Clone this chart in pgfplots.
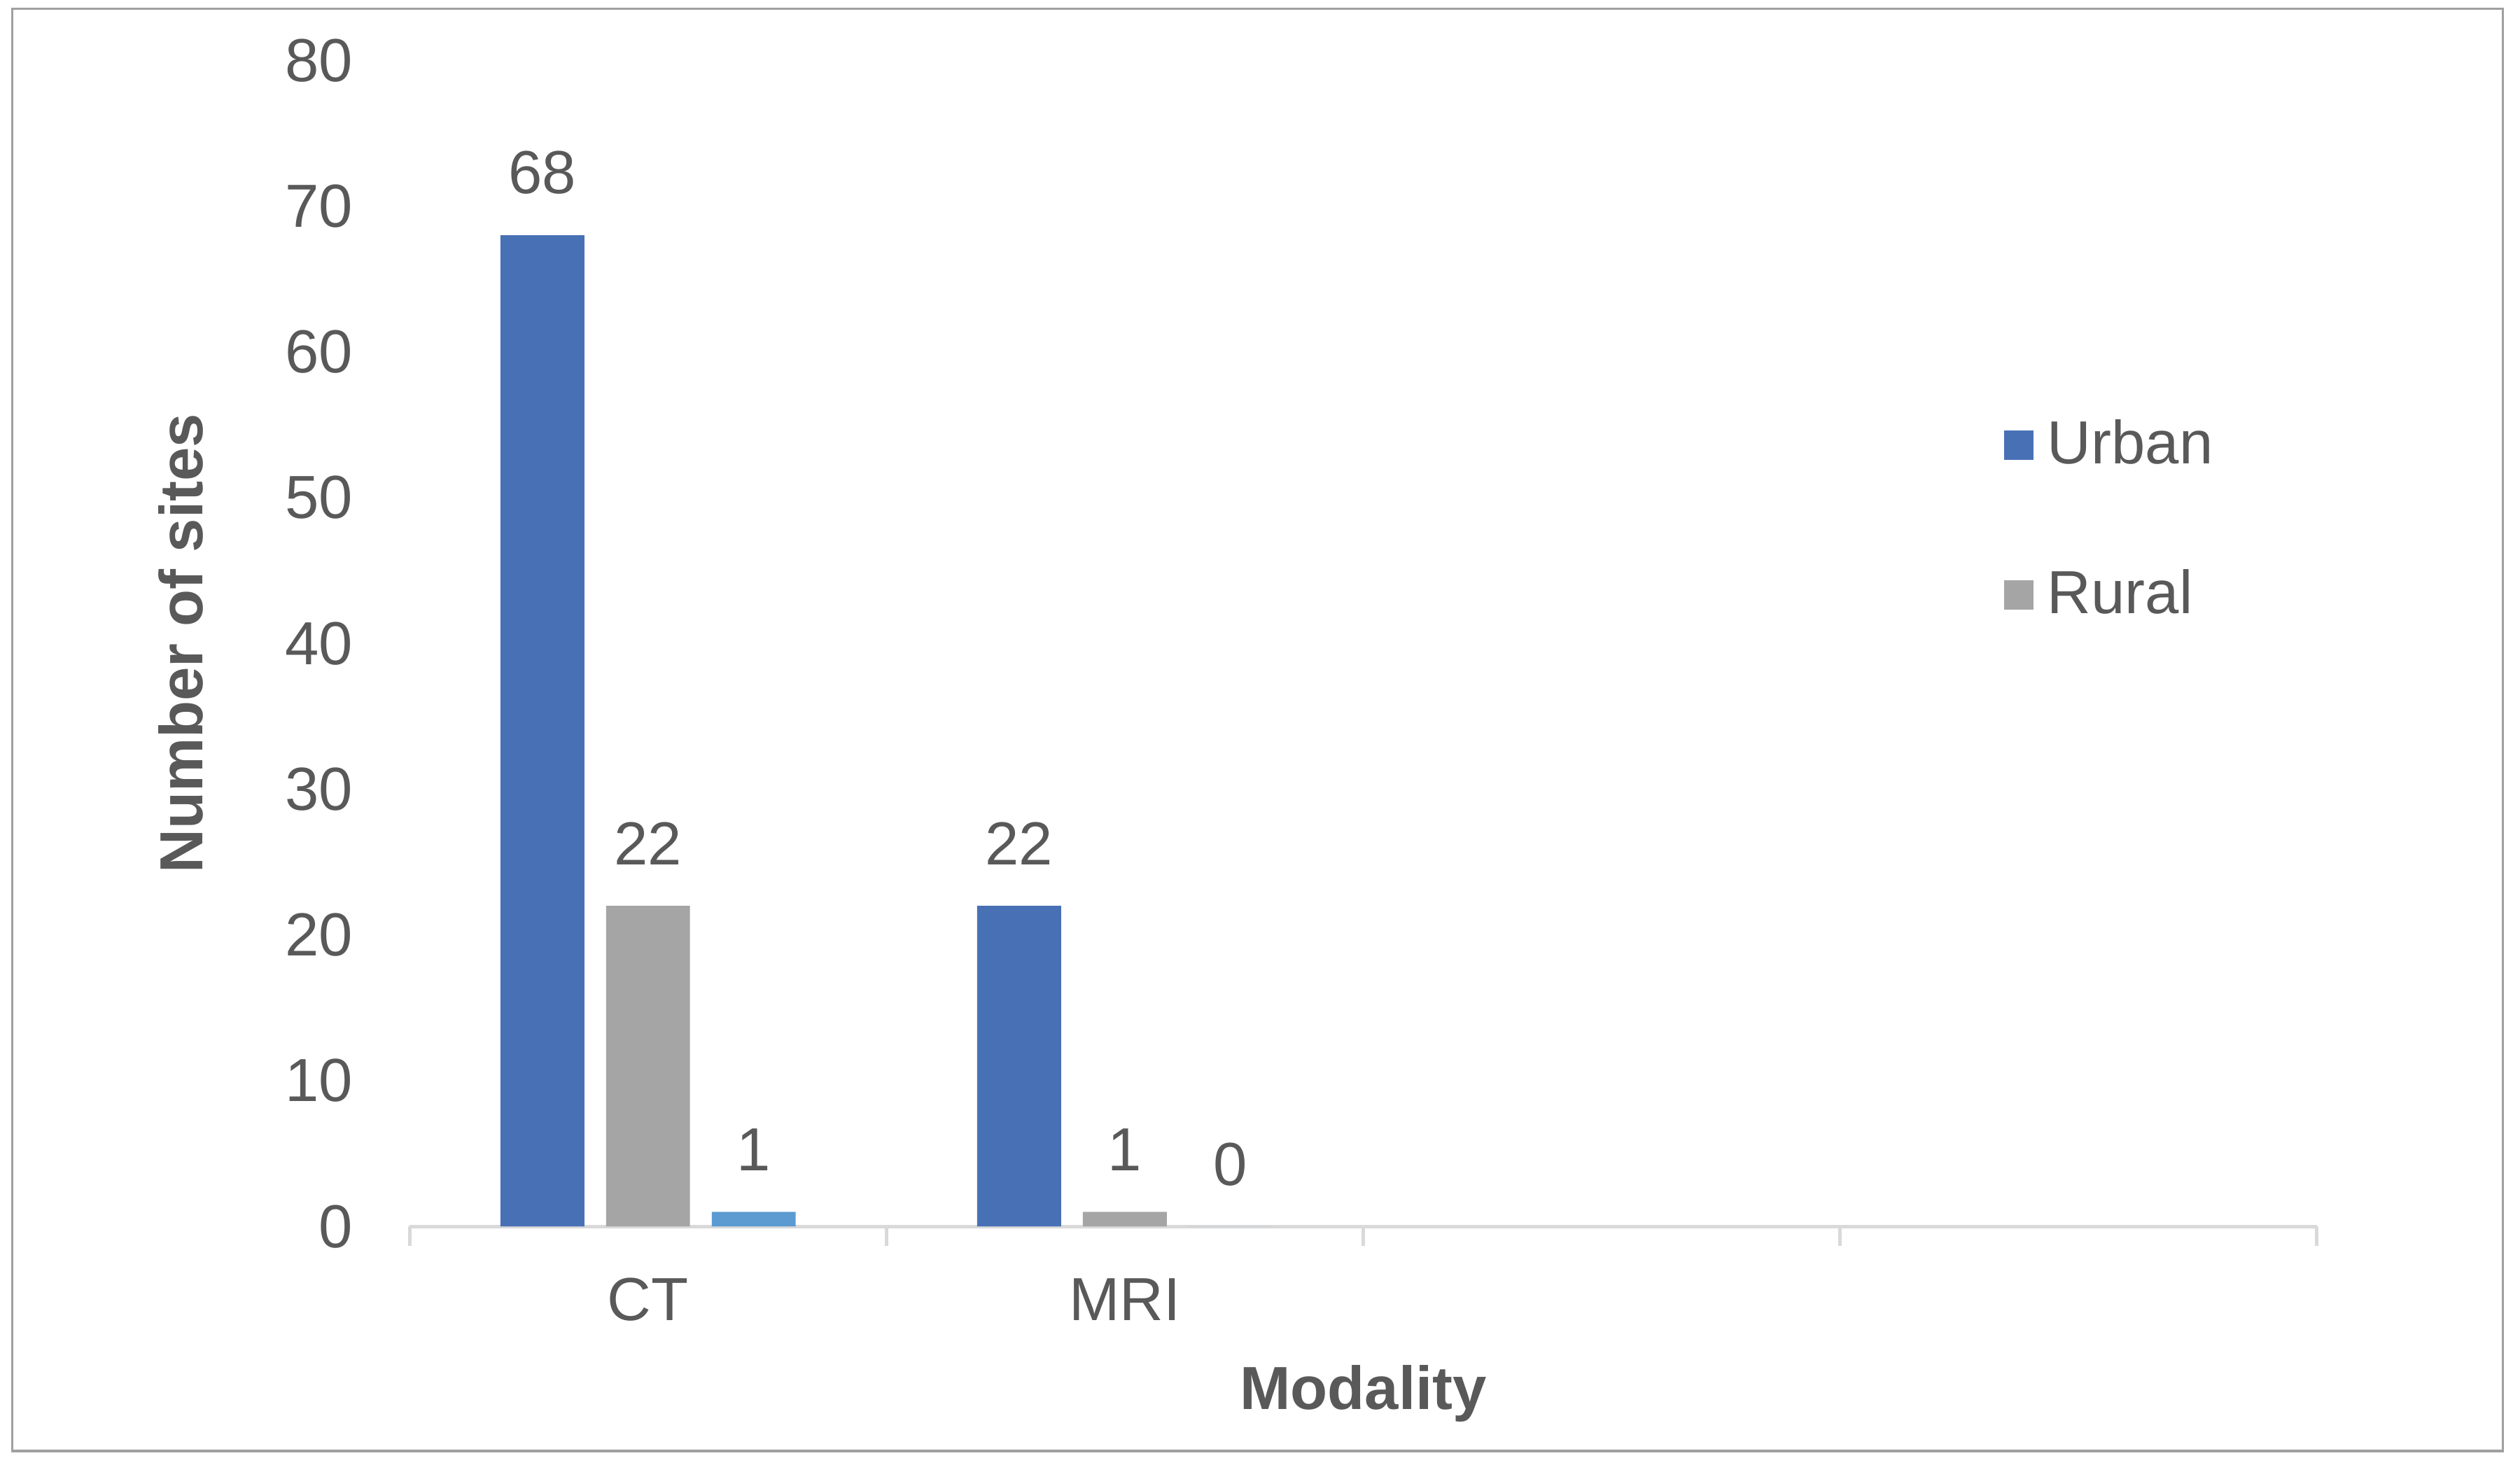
\documentclass[border=0pt]{standalone}
\usepackage{fontspec}
\setmainfont{Liberation Sans}
\usepackage{pgfplots}
\pgfplotsset{compat=1.18}
\definecolor{urban}{HTML}{4870B5}
\definecolor{rural}{HTML}{A5A5A5}
\definecolor{third}{HTML}{5B9BD2}
\definecolor{txt}{HTML}{595959}
\definecolor{axisgray}{HTML}{D9D9D9}
\definecolor{framegray}{HTML}{A0A0A0}

\begin{document}
\begin{tikzpicture}
\useasboundingbox (-80.8pt,-45.6pt) rectangle (416.2pt,241.9pt);
\draw[framegray, line width=0.5pt] (-78.4pt,-44.3pt) rectangle (412.8pt,240.2pt);
\begin{axis}[
  scale only axis,
  width=376.1pt, height=230pt,
  xmin=0, xmax=4, ymin=0, ymax=80,
  clip=false,
  axis x line*=bottom, axis y line*=left,
  y axis line style={draw=none},
  x axis line style={axisgray, line width=0.75pt},
  xtick={0.5,1.5,2.5,3.5},
  xticklabels={CT,MRI,,},
  ytick={0,10,...,80},
  major tick length=0pt,
  extra x ticks={0,1,2,3,4},
  extra x tick labels={},
  extra x tick style={major tick length=3.9pt, tick align=outside,
    tick style={axisgray, line width=0.75pt}},
  /pgf/number format/assume math mode=true,
  tick label style={font=\fontsize{12}{14}\selectfont, text=txt},
  yticklabel style={anchor=east, inner sep=0pt, xshift=-11pt},
  xticklabel style={anchor=center, yshift=-14.4pt},
  xlabel={Modality},
  ylabel={Number of sites},
  label style={font=\fontsize{12}{14}\selectfont\bfseries, text=txt},
  x label style={at={(axis description cs:0.5,-0.1435)}, anchor=center},
  y label style={at={(axis description cs:-0.1199,0.5)}, anchor=center},
  nodes near coords,
  every node near coord/.append style={anchor=center, yshift=12.3pt,
    font=\fontsize{12}{14}\selectfont, text=txt},
  legend image code/.code={\fill[#1] (0pt,-2.9pt) rectangle (5.8pt,2.9pt);},
  legend cell align=left,
  legend style={draw=none, fill=none, at={(rel axis cs:0.8354,0.6056)},
    anchor=west, inner sep=0pt, row sep=19.3pt,
    nodes={inner sep=0pt},
    /tikz/every odd column/.append style={column sep=2.8pt},
    font=\fontsize{12}{14}\selectfont, text=txt},
]
% bars placed at category centre -/+ 0.2217
\addplot[ybar, bar width=0.176, fill=urban, draw=none]
  coordinates {(0.2783,68) (1.2783,22)};
\addlegendentry{Urban}
\addplot[ybar, bar width=0.176, fill=rural, draw=none]
  coordinates {(0.5,22) (1.5,1)};
\addlegendentry{Rural}
\addplot[ybar, bar width=0.176, fill=third, draw=none, forget plot]
  coordinates {(0.7217,1) (1.7217,0)};
\end{axis}
\end{tikzpicture}
\end{document}
